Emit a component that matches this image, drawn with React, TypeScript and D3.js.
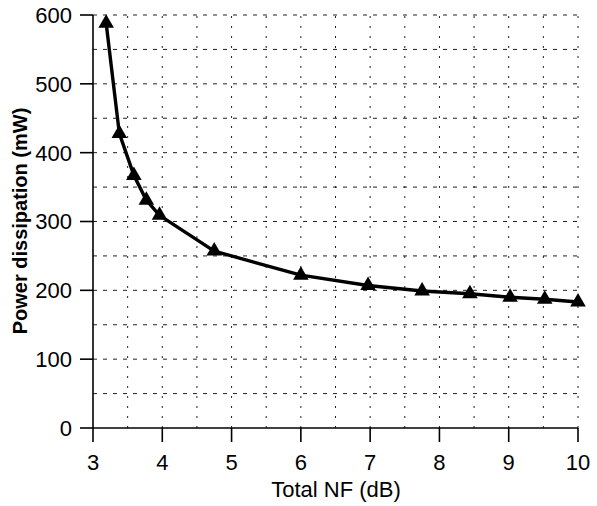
import * as d3 from "d3"

// values
const nfDb = [3.19, 3.38, 3.59, 3.77, 3.96, 4.75, 6.0, 6.97, 7.75, 8.44, 9.02, 9.52, 10.0]
const powerMw = [588, 428, 367, 331, 309, 257, 222, 207, 199, 195, 190, 187, 183]
const xTicks = [3, 4, 5, 6, 7, 8, 9, 10]
const yTicks = [0, 100, 200, 300, 400, 500, 600]
const xGrid = d3.range(3.5, 10.01, 0.5)
const yGrid = d3.range(50, 600.1, 50)

const W = 597
const H = 506
const FONT = "'Liberation Sans', Arial, Helvetica, sans-serif"

export default function App() {
  const x = d3.scaleLinear().domain([3, 10]).range([93, 578])
  const y = d3.scaleLinear().domain([0, 600]).range([428, 15])

  const points = nfDb.map((v, i) => [v, powerMw[i]] as [number, number])
  const line = d3
    .line<[number, number]>()
    .x((d) => x(d[0]))
    .y((d) => y(d[1]))
  const tri = d3.symbol().type(d3.symbolTriangle).size(105)()

  return (
    <svg
      width={W}
      height={H}
      style={{ position: "absolute", left: 0, top: 0, background: "#fff" }}
      fontFamily={FONT}
    >
      {/* grid */}
      {yGrid.map((v) => (
        <line
          key={"gy" + v}
          x1={x(3)}
          x2={x(10)}
          y1={y(v)}
          y2={y(v)}
          stroke="#222"
          strokeWidth={1}
          strokeDasharray="4,6"
        />
      ))}
      {xGrid.map((v) => (
        <line
          key={"gx" + v}
          x1={x(v)}
          x2={x(v)}
          y1={y(0)}
          y2={y(600)}
          stroke="#222"
          strokeWidth={1}
          strokeDasharray="2,8"
        />
      ))}

      {/* axes */}
      <line x1={x(3)} x2={x(3)} y1={y(600)} y2={y(0)} stroke="#000" strokeWidth={1.6} />
      <line x1={x(3)} x2={x(10)} y1={y(0)} y2={y(0)} stroke="#000" strokeWidth={1.4} />
      {yTicks.map((v) => (
        <g key={"yt" + v}>
          <line x1={x(3) - 13} x2={x(3)} y1={y(v)} y2={y(v)} stroke="#000" strokeWidth={1.6} />
          <text x={72} y={y(v)} dy="0.36em" textAnchor="end" fontSize={22} fill="#000">
            {v}
          </text>
        </g>
      ))}
      {xTicks.map((v) => (
        <g key={"xt" + v}>
          <line x1={x(v)} x2={x(v)} y1={y(0)} y2={y(0) + 14} stroke="#000" strokeWidth={1.6} />
          <text x={x(v)} y={470} textAnchor="middle" fontSize={22} fill="#000">
            {v}
          </text>
        </g>
      ))}

      {/* series */}
      <path d={line(points) || ""} fill="none" stroke="#000" strokeWidth={3.4} strokeLinejoin="round" />
      {points.map((p, i) => (
        <path key={"m" + i} d={tri || ""} transform={`translate(${x(p[0])},${y(p[1])})`} fill="#000" />
      ))}

      {/* titles */}
      <text x={336} y={497} textAnchor="middle" fontSize={22} fill="#000">
        Total NF (dB)
      </text>
      <text
        transform="translate(27,221) rotate(-90)"
        textAnchor="middle"
        fontSize={20}
        fontWeight="bold"
        fill="#000"
      >
        Power dissipation (mW)
      </text>
    </svg>
  )
}
